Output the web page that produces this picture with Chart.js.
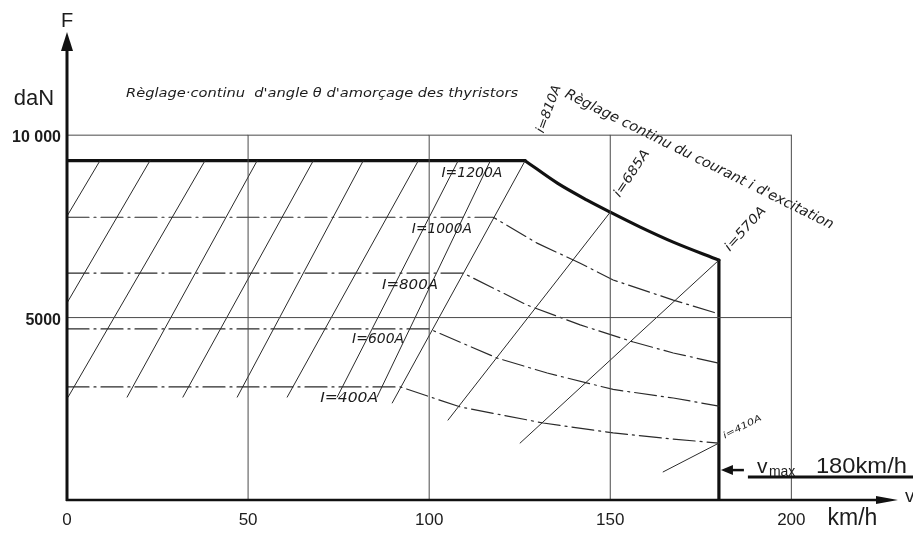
<!DOCTYPE html>
<html><head><meta charset="utf-8">
<script src="https://cdn.jsdelivr.net/npm/chart.js@4.4.1/dist/chart.umd.min.js"></script>
<style>html,body{margin:0;padding:0;background:#fff;}canvas{display:block;}</style>
</head><body>
<canvas id="c" width="913" height="533"></canvas>
<script>
// ---- axis ticks / grid ----
const xTicks = [0, 50, 100, 150, 200];
const xTickLabels = ["0", "50", "100", "150", "200"];
const yTicks = [5000, 10000];
const yTickLabels = ["5000", "10 000"];
const gridV = [50, 100, 150, 200];
const gridF = [5000, 10000];
const vMax = 180;

// ---- envelope: I = 1200 A plateau, constant-power curve, v max ----
const envelopeFlat = [[0, 9300], [126.5, 9300]];
const envelopeCurve = [[126.5, 9300], [135.4, 8685], [143.6, 8220], [150, 7890], [158.3, 7480], [167.4, 7068], [180, 6575]];
const envelopeVmax = [[180, 6575], [180, 0]];

// ---- constant armature current curves (dash-dot) ----
const I1000 = [[0, 7750], [117.7, 7750], [129.8, 7040], [141.7, 6490], [150.8, 6030], [167.4, 5480], [180, 5100]];
const I800 = [[0, 6220], [109.4, 6220], [127.1, 5340], [141.7, 4800], [156.4, 4330], [167.4, 4030], [180, 3750]];
const I600 = [[0, 4690], [100, 4690], [118.8, 3890], [132.6, 3480], [150.8, 3030], [167.4, 2795], [180, 2575]];
const I400 = [[0, 3100], [92, 3100], [108.6, 2550], [131.5, 2110], [150.8, 1840], [167.4, 1670], [180, 1560]];
const currentLabels = ["I=1200A", "I=1000A", "I=800A", "I=600A", "I=400A"];

// ---- constant thyristor angle lines ----
const hatchTop = [[9.1, 9300], [22.9, 9300], [38.1, 9300], [52.5, 9300], [68.0, 9300], [81.8, 9300], [97.0, 9300], [108.0, 9300], [116.9, 9300]];
const hatchBottom = [[0, 7780], [0, 5400], [0.3, 2820], [16.6, 2820], [32.0, 2820], [47.0, 2820], [60.8, 2820], [74.6, 2820], [85.6, 2820]];

// ---- constant excitation current lines ----
const i810 = [[126.5, 9300], [89.8, 2660]];
const i685 = [[150, 7890], [105.2, 2190]];
const i570 = [[180, 6575], [125.1, 1560]];
const i410 = [[180, 1560], [164.6, 770]];
const excitationLabels = ["i=810A", "i=685A", "i=570A", "i=410A"];

const pts = a => a.map(p => ({x: p[0], y: p[1]}));
const INK = '#1c1c1c';
const datasets = [];
gridV.forEach(v => datasets.push({data: pts([[v, 0], [v, 10000]]), borderColor: '#4a4a4a', borderWidth: 1}));
gridF.forEach(f => datasets.push({data: pts([[0, f], [200, f]]), borderColor: '#4a4a4a', borderWidth: 1}));
hatchTop.forEach((t, k) => datasets.push({data: pts([t, hatchBottom[k]]), borderColor: '#2a2a2a', borderWidth: 1}));
[i810, i685, i570, i410].forEach(s => datasets.push({data: pts(s), borderColor: '#2a2a2a', borderWidth: 1}));
[I1000, I800, I600, I400].forEach(s => datasets.push({data: pts(s), borderColor: '#2a2a2a', borderWidth: 1.2, borderDash: [22, 5, 2, 5]}));
datasets.push({data: pts(envelopeFlat), borderColor: '#111', borderWidth: 3.2});
datasets.push({data: pts(envelopeCurve), borderColor: '#111', borderWidth: 3.2, cubicInterpolationMode: 'monotone'});
datasets.push({data: pts(envelopeVmax), borderColor: '#111', borderWidth: 3.2});
datasets.forEach(d => { d.showLine = true; d.pointRadius = 0; d.fill = false; d.borderCapStyle = 'round'; if (!d.cubicInterpolationMode) d.tension = 0; });

function txt(ctx, s, x, y, opt) {
  opt = opt || {};
  ctx.save();
  ctx.font = opt.font || "15px 'Liberation Sans'";
  ctx.fillStyle = INK;
  ctx.textAlign = opt.align || 'left';
  ctx.textBaseline = opt.base || 'alphabetic';
  ctx.translate(x, y);
  if (opt.angle) ctx.rotate(opt.angle);
  if (opt.width) { const m = ctx.measureText(s).width; ctx.scale(opt.width / m, 1); }
  ctx.fillText(s, 0, 0);
  ctx.restore();
}

const decor = {
  id: 'decor',
  afterDatasetsDraw(chart) {
    const ctx = chart.ctx, xs = chart.scales.x, ys = chart.scales.y, ca = chart.chartArea;
    const X = v => xs.getPixelForValue(v), Y = f => ys.getPixelForValue(f);
    const x0 = X(0), y0 = Y(0);
    ctx.save();
    ctx.strokeStyle = '#111'; ctx.fillStyle = '#111';
    // y axis
    ctx.lineWidth = 3;
    ctx.beginPath(); ctx.moveTo(x0, y0 + 1); ctx.lineTo(x0, ca.top + 16); ctx.stroke();
    ctx.beginPath(); ctx.moveTo(x0, ca.top - 1); ctx.lineTo(x0 - 6, ca.top + 18); ctx.lineTo(x0 + 6, ca.top + 18); ctx.closePath(); ctx.fill();
    // x axis
    ctx.lineWidth = 2.5;
    ctx.beginPath(); ctx.moveTo(x0 - 1, y0); ctx.lineTo(ca.right - 20, y0); ctx.stroke();
    ctx.beginPath(); ctx.moveTo(ca.right - 2, y0); ctx.lineTo(ca.right - 24, y0 - 4); ctx.lineTo(ca.right - 24, y0 + 4); ctx.closePath(); ctx.fill();
    ctx.restore();

    // tick labels
    xTicks.forEach((v, k) => txt(ctx, xTickLabels[k], X(v), y0 + 25, {align: 'center', font: "17px 'Liberation Sans'"}));
    yTicks.forEach((f, k) => txt(ctx, yTickLabels[k], x0 - 6, Y(f) + 7, {align: 'right', font: "bold 16px 'Liberation Sans'"}));
    txt(ctx, 'F', x0, ca.top - 6, {align: 'center', font: "20px 'Liberation Sans'"});
    txt(ctx, 'daN', x0 - 33, Y(11000) + 6, {align: 'center', font: "22px 'Liberation Sans'"});
    txt(ctx, 'km/h', X(210), y0 + 25, {font: "23px 'Liberation Sans'"});
    txt(ctx, 'v', ca.right + 5, y0 + 2, {font: "19px 'Liberation Sans'"});

    // handwritten annotations
    const hw = "italic 13px 'DejaVu Sans'";
    txt(ctx, "R\u00e8glage\u00b7continu  d'angle \u03b8 d'amor\u00e7age des thyristors", X(16.3), Y(11046), {font: hw, width: 392});
    txt(ctx, "R\u00e8glage continu du courant i d'excitation", X(137.2), Y(11050), {font: "italic 14px 'DejaVu Sans'", width: 298, angle: 0.46});
    const iLab = [[111.8, 8964, 61], [103.5, 7429, 60], [94.7, 5894, 56], [85.9, 4413, 52], [77.9, 2796, 58]];
    currentLabels.forEach((s, k) => txt(ctx, s, X(iLab[k][0]), Y(iLab[k][1]), {align: 'center', base: 'middle', font: "italic 14px 'DejaVu Sans'", width: iLab[k][2]}));
    const eLab = [[131.6, 10040, 50, -1.22, 13], [152.6, 8280, 54, -0.98, 13], [183.0, 6800, 55, -0.84, 13], [181.6, 1680, 42, -0.47, 9]];
    excitationLabels.forEach((s, k) => txt(ctx, s, X(eLab[k][0]), Y(eLab[k][1]), {font: "italic " + eLab[k][4] + "px 'DejaVu Sans'", width: eLab[k][2], angle: eLab[k][3]}));

    // v max annotation
    const xv = X(vMax), ya = Y(820);
    ctx.save();
    ctx.fillStyle = '#111'; ctx.strokeStyle = '#111';
    ctx.lineWidth = 2.5;
    ctx.beginPath(); ctx.moveTo(xv + 10, ya); ctx.lineTo(xv + 25, ya); ctx.stroke();
    ctx.beginPath(); ctx.moveTo(xv + 2, ya); ctx.lineTo(xv + 14, ya - 5); ctx.lineTo(xv + 14, ya + 5); ctx.closePath(); ctx.fill();
    ctx.lineWidth = 3;
    ctx.beginPath(); ctx.moveTo(xv + 29, ya + 7); ctx.lineTo(913, ya + 7); ctx.stroke();
    ctx.restore();
    txt(ctx, 'v', xv + 38, ya + 3, {font: "21px 'Liberation Sans'"});
    txt(ctx, 'max', xv + 50, ya + 6, {font: "14px 'Liberation Sans'"});
    txt(ctx, '180km/h', xv + 97, ya + 3, {font: "22px 'Liberation Sans'", width: 91});
  }
};

new Chart(document.getElementById('c'), {
  type: 'scatter',
  data: {datasets},
  options: {
    responsive: false,
    animation: false,
    events: [],
    layout: {padding: {left: 67, right: 13, top: 33, bottom: 33}},
    scales: {
      x: {type: 'linear', min: 0, max: 230, display: false},
      y: {type: 'linear', min: 0, max: 12800, display: false}
    },
    plugins: {legend: {display: false}, tooltip: {enabled: false}}
  },
  plugins: [decor]
});
</script>
</body></html>
